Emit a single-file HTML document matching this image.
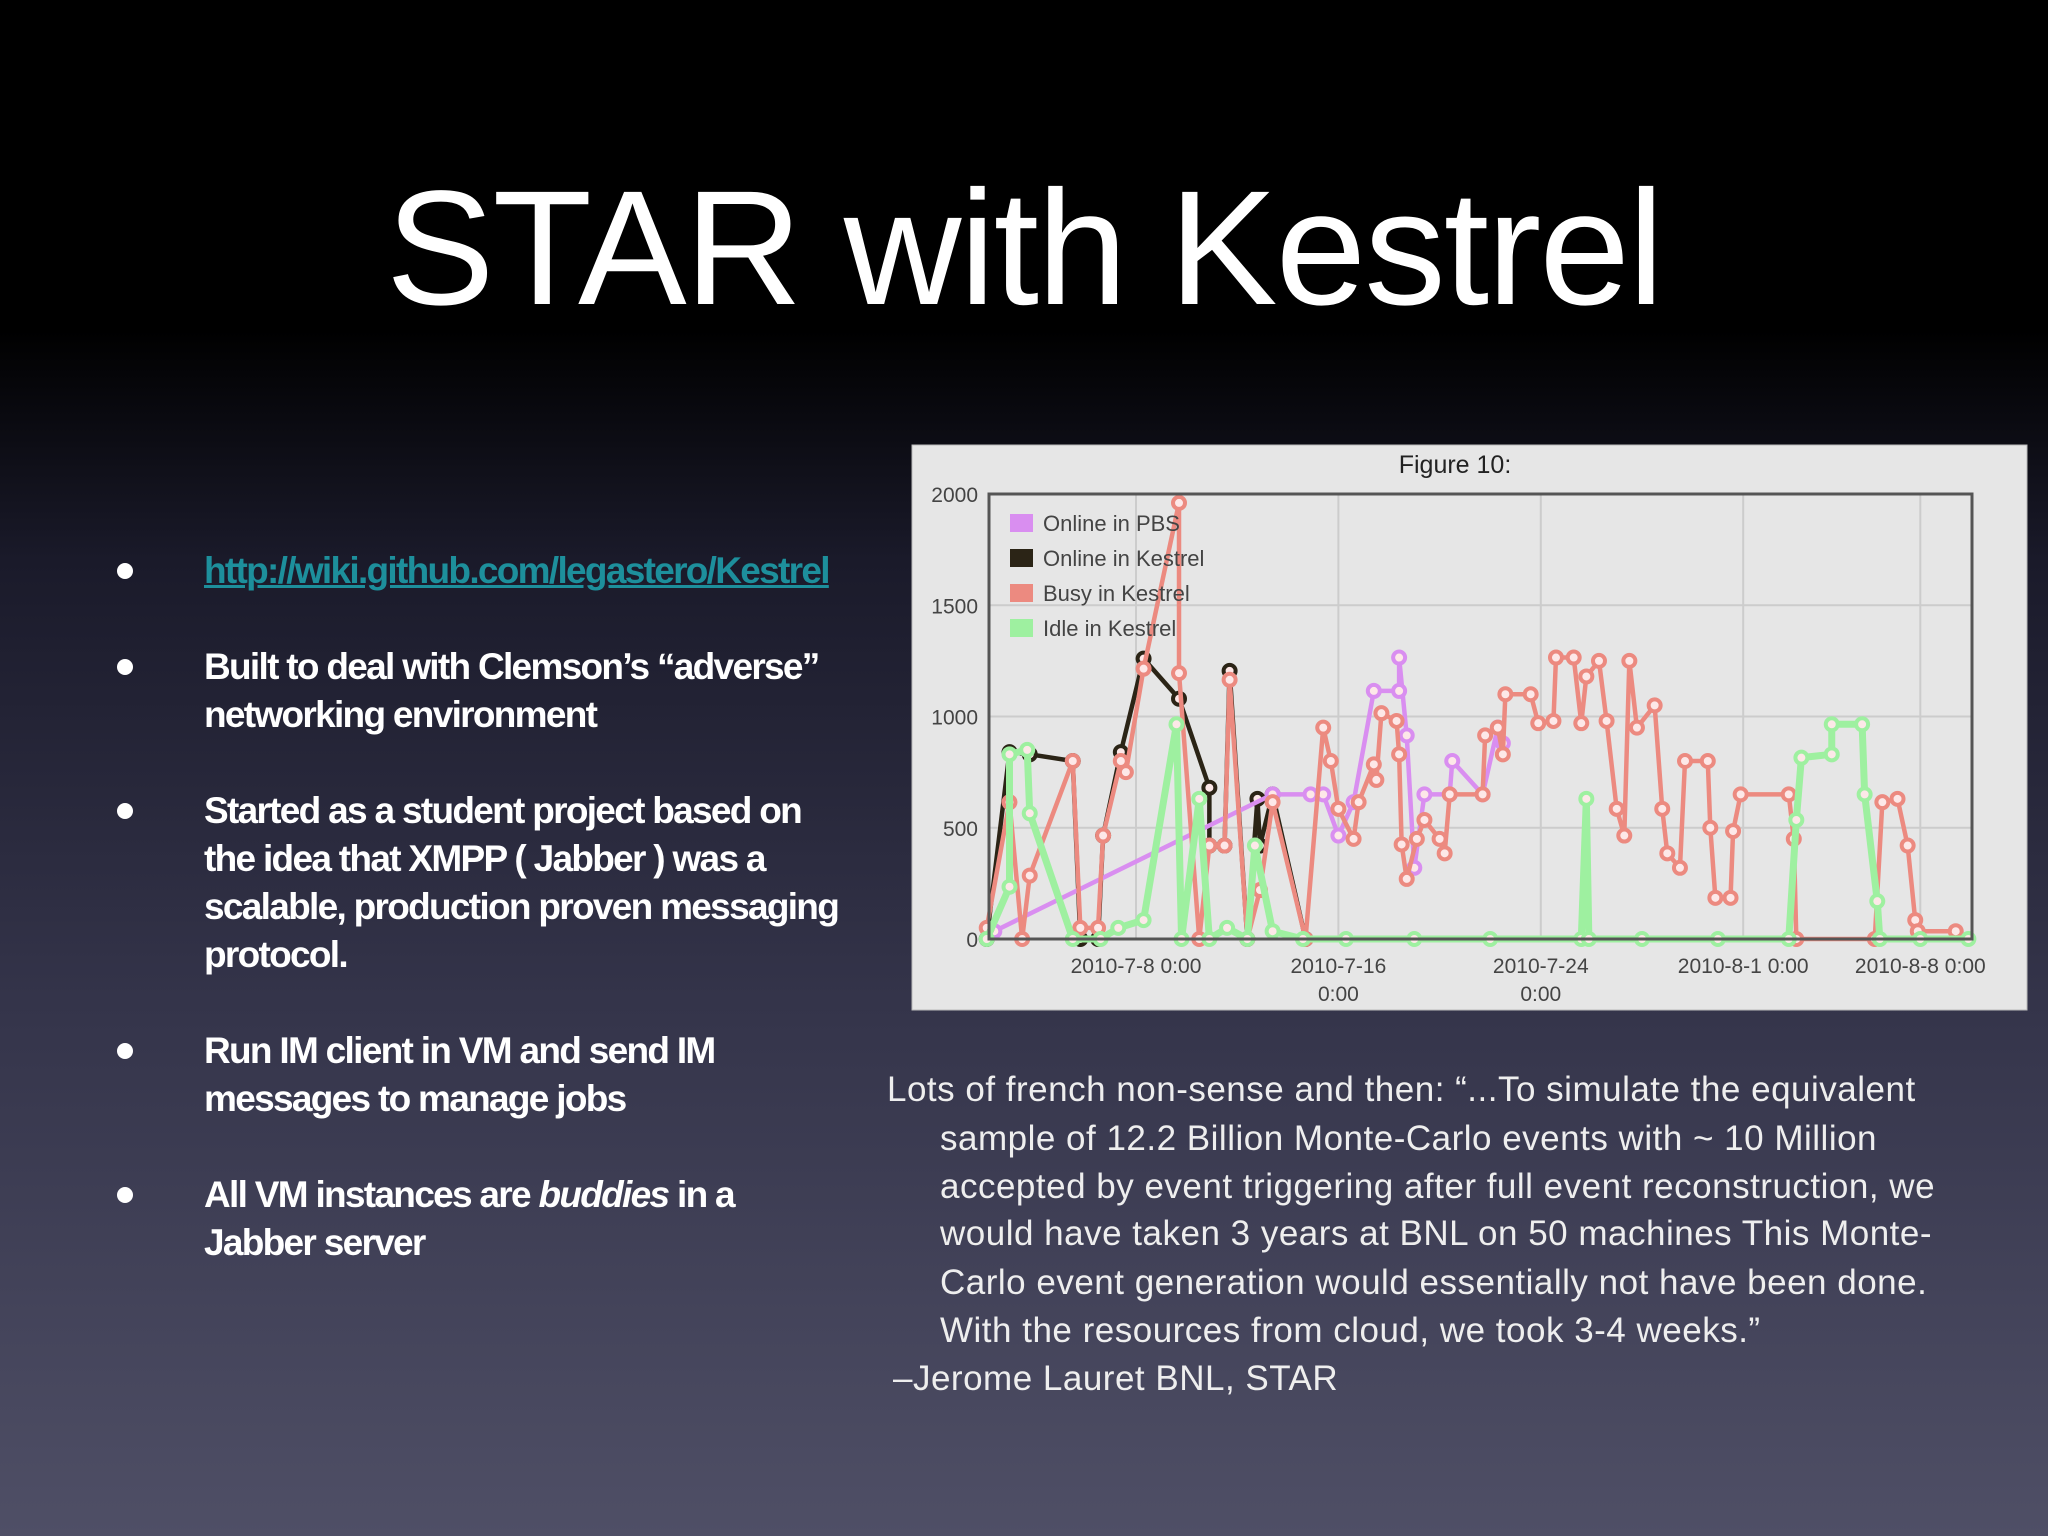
<!DOCTYPE html>
<html><head><meta charset="utf-8"><style>
body{margin:0;width:2048px;height:1536px;overflow:hidden;position:relative;
background:linear-gradient(180deg,#000 0px,#000 330px,#1a1a2a 560px,#34344a 1000px,#4f4f66 1536px);
font-family:"Liberation Sans",sans-serif;}
.t{position:absolute;white-space:nowrap;}
#title{left:0;width:2048px;text-align:center;top:154px;font-size:163px;color:#fff;letter-spacing:-2px;}
.b{position:absolute;left:204px;font-size:37px;font-weight:bold;color:#fff;letter-spacing:-1.7px;line-height:48px;white-space:nowrap}
.dot{position:absolute;left:117px;width:16px;height:16px;border-radius:50%;background:#fff}
.q{position:absolute;font-size:35px;color:#eee;letter-spacing:0.5px;line-height:48px;white-space:nowrap}
</style></head><body>
<div id="title" class="t">STAR with Kestrel</div>

<div class="dot" style="top:563px"></div>
<div class="b" style="top:547px;width:638px;overflow:hidden;color:#1d8f9c;text-decoration:underline">http://wiki.github.com/legastero/Kestrel</div>
<div class="dot" style="top:659px"></div>
<div class="b" style="top:643px">Built to deal with Clemson’s “adverse”<br>networking environment</div>
<div class="dot" style="top:803px"></div>
<div class="b" style="top:787px">Started as a student project based on<br>the idea that XMPP ( Jabber ) was a<br>scalable, production proven messaging<br>protocol.</div>
<div class="dot" style="top:1043px"></div>
<div class="b" style="top:1027px">Run IM client in VM and send IM<br>messages to manage jobs</div>
<div class="dot" style="top:1187px"></div>
<div class="b" style="top:1171px">All VM instances are <i>buddies</i> in a<br>Jabber server</div>

<div class="q" style="left:887px;top:1066px">Lots of french non-sense and then: “...To simulate the equivalent</div>
<div class="q" style="left:940px;top:1115px">sample of 12.2 Billion Monte-Carlo events with ~ 10 Million</div>
<div class="q" style="left:940px;top:1163px">accepted by event triggering after full event reconstruction, we</div>
<div class="q" style="left:940px;top:1210px">would have taken 3 years at BNL on 50 machines This Monte-</div>
<div class="q" style="left:940px;top:1259px">Carlo event generation would essentially not have been done.</div>
<div class="q" style="left:940px;top:1307px">With the resources from cloud, we took 3-4 weeks.”</div>
<div class="q" style="left:893px;top:1355px">–Jerome Lauret BNL, STAR</div>

<svg id="chart" style="position:absolute;left:0;top:0" width="2048" height="1536">
<rect x="912" y="445" width="1115" height="565" fill="#e6e6e6" stroke="#bbb"/>
<text x="1455" y="473" font-size="25" text-anchor="middle" fill="#222" font-family="Liberation Sans">Figure 10:</text>
<g id="grid"></g><g id="series"></g>
<rect x="989" y="494" width="983" height="445" fill="none" stroke="#555" stroke-width="3"/>
<g id="axes" font-family="Liberation Sans" font-size="21" fill="#444"></g>
<g id="legend" font-family="Liberation Sans" font-size="22" fill="#444"></g>
</svg>
<script>
const yTicks=[0,500,1000,1500,2000];
const xTickDays=[0,8,16,24,31];
const xTickLabels=[["2010-7-8 0:00"],["2010-7-16","0:00"],["2010-7-24","0:00"],["2010-8-1 0:00"],["2010-8-8 0:00"]];
const seriesNames=["Online in PBS","Online in Kestrel","Busy in Kestrel","Idle in Kestrel"];
const pbsDays=[-5.6,5.4,6.9,7.4,8.0,8.6,9.4,10.4,10.4,10.7,11.0,11.4,12.4,12.5,13.7,14.3,14.5];
const pbsVals=[35,650,650,650,465,615,1115,1115,1265,915,320,650,650,800,650,950,880];
const onlDays=[-5.9,-5.0,-4.2,-2.5,-2.2,-1.5,-1.3,-0.6,0.3,1.7,2.9,2.9,3.5,3.7,4.4,4.8,4.9,5.4,6.7];
const onlVals=[0,840,830,800,0,0,465,840,1260,1080,680,420,420,1205,0,630,420,650,0];
const busyDays=[-5.9,-5.0,-4.5,-4.2,-2.5,-2.2,-1.5,-1.3,-0.6,-0.4,0.3,1.7,1.7,2.5,2.9,3.5,3.7,4.4,4.9,5.4,6.7,7.4,7.7,8.0,8.6,8.8,9.4,9.5,9.7,10.3,10.4,10.5,10.7,11.1,11.4,12.0,12.2,12.4,13.7,13.8,14.3,14.5,14.6,15.6,15.9,16.5,16.6,17.3,17.6,17.8,18.3,18.6,19.0,19.3,19.5,19.8,20.5,20.8,21.0,21.5,21.7,22.6,22.7,22.9,23.5,23.6,23.9,25.8,26.0,26.1,29.2,29.5,30.1,30.5,30.8,30.9,32.4];
const busyVals=[50,615,0,285,800,50,50,465,800,750,1215,1960,1195,0,420,420,1165,0,220,615,0,950,800,585,450,615,785,715,1015,980,830,425,270,450,535,450,385,650,650,915,950,830,1100,1100,970,980,1265,1265,970,1180,1250,980,585,465,1250,950,1050,585,385,320,800,800,500,185,185,485,650,650,450,0,0,615,630,420,85,35,35];
const idleDays=[-5.9,-5.0,-5.0,-4.3,-4.2,-2.5,-1.4,-0.7,0.3,1.6,1.8,2.5,2.9,3.6,4.4,4.7,5.4,6.6,8.3,11,14,17.6,17.8,17.9,20,23,25.8,26.1,26.3,27.5,27.5,28.7,28.8,29.3,29.4,31,32.9];
const idleVals=[0,235,830,850,565,0,0,50,85,965,0,630,0,50,0,420,35,0,0,0,0,0,630,0,0,0,0,535,815,830,965,965,650,170,0,0,0];
const colors=["#d98ef0","#2b2416","#ec8a80","#9ef0a0"];
const NS="http://www.w3.org/2000/svg";
const X=d=>1136+d*25.3, Y=v=>939-v*445/2000;
function mk(tag,parent,attrs){const e=document.createElementNS(NS,tag);for(const k in attrs)e.setAttribute(k,attrs[k]);parent.appendChild(e);return e;}
const grid=document.getElementById('grid'),axes=document.getElementById('axes');
yTicks.forEach(v=>{
 const l=mk('line',grid,{x1:989,x2:1972,y1:Y(v),y2:Y(v),stroke:'#ccc','stroke-width':2});
 
 
 const t=mk('text',axes,{x:978,y:Y(v)+8,'text-anchor':'end'});t.textContent=v;
 
 
});
xTickDays.forEach((d,i)=>{
 const l=mk('line',grid,{x1:X(d),x2:X(d),y1:494,y2:939,stroke:'#ccc','stroke-width':2});
 
 
 xTickLabels[i].forEach((s,j)=>{const t=mk('text',axes,{x:X(d),y:973+j*28,'text-anchor':'middle'});t.textContent=s;
 
 });
});
const sg=document.getElementById('series');
[[onlDays,onlVals,1],[pbsDays,pbsVals,0],[busyDays,busyVals,2],[idleDays,idleVals,3]].forEach(([ds,vs,c])=>{
 const g=mk('g',sg,{});
 
 
 const pts=ds.map((d,i)=>X(d)+','+Y(vs[i])).join(' ');
 const pl=mk('polyline',g,{points:pts,fill:'none',stroke:colors[c],'stroke-width':c===3?7:4.5,'stroke-linejoin':'round'});
 
 
 ds.forEach((d,i)=>{const p=mk('circle',g,{cx:X(d),cy:Y(vs[i]),r:6,fill:'#fde8e8',stroke:colors[c],'stroke-width':4});
 
 });
});
const lg=document.getElementById('legend');
seriesNames.forEach((n,i)=>{
 const r=mk('rect',lg,{x:1010,y:514+i*35,width:23,height:18,fill:colors[i]});
 
 
 const t=mk('text',lg,{x:1043,y:531+i*35});t.textContent=n;
 
 
});
</script>
</body></html>
